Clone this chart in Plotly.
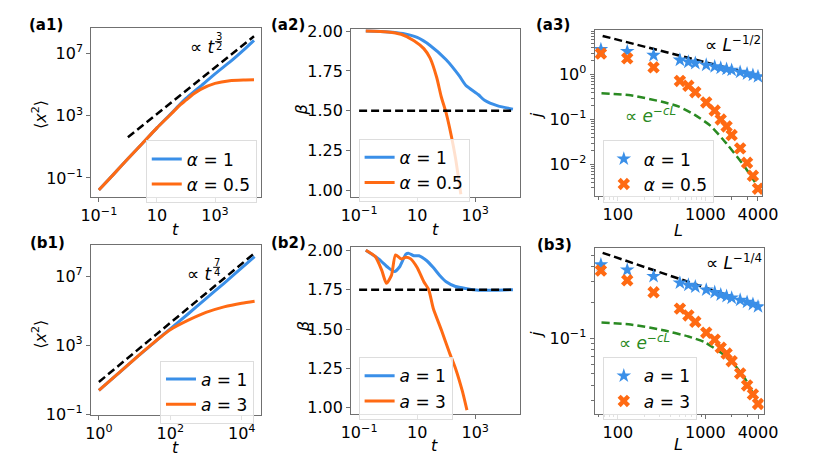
import plotly.graph_objects as go
from plotly.subplots import make_subplots

W, H = 830, 474

BLUE = "#3a8fe8"
ORANGE = "#ff6a13"
GREEN = "#2a8a22"
AXC = "#707070"

# ---- (a1) mean square displacement, alpha = 1 / 0.5
a1_t = [0.1, 0.32, 1, 3.2, 10, 32, 63, 100, 180, 320, 1000, 3200, 10000, 22000]
a1_blue = [0.017, 0.17, 1.7, 17, 166, 1500, 5600, 13000, 33000, 79000, 500000, 2800000, 18000000, 71000000]
a1_orange = [0.017, 0.17, 1.7, 17, 166, 1400, 5000, 10000, 25000, 50000, 120000, 180000, 200000, 205000]
a1_fit_t = [1, 22000]
a1_fit = [42, 130000000]

# ---- (a2) local exponent beta
a2_t_blue = [0.17, 1, 3.2, 10, 28, 100, 280, 470, 1300, 2100, 6000, 20000]
a2_blue = [2.0, 1.995, 1.985, 1.96, 1.91, 1.82, 1.72, 1.66, 1.60, 1.565, 1.53, 1.51]
a2_t_orange = [0.17, 1, 2.8, 7.8, 17, 28, 47, 68, 100, 150, 210, 320]
a2_orange = [2.0, 1.995, 1.98, 1.94, 1.89, 1.83, 1.71, 1.586, 1.485, 1.343, 1.202, 0.975]
a2_ref_t = [0.1, 20000]
a2_ref = [1.5, 1.5]

# ---- (a3) current vs system size
L_vals = [64, 128, 256, 512, 640, 768, 1024, 1280, 1500, 1750, 2000, 2500, 3000, 3500, 4000]
a3_blue = [3.6, 3.27, 2.68, 2.1, 1.9, 1.78, 1.62, 1.5, 1.4, 1.32, 1.25, 1.13, 1.04, 0.97, 0.9]
a3_orange = [2.92, 2.28, 1.44, 0.72, 0.56, 0.405, 0.239, 0.158, 0.1, 0.07, 0.045, 0.0228, 0.0109, 0.0056, 0.0029]
a3_pow_L = [67, 4100]
a3_pow = [7.2, 0.93]
a3_exp_L = [65, 140, 320, 500, 750, 1150, 1750, 2700, 4000]
a3_exp = [0.385, 0.344, 0.247, 0.193, 0.128, 0.072, 0.029, 0.01, 0.0032]

# ---- (b1)
b1_t = [1, 3.2, 10, 32, 56, 100, 320, 1000, 3200, 10000, 23000]
b1_blue = [2.5, 20, 160, 1200, 3300, 8900, 66000, 500000, 3800000, 30000000, 130000000]
b1_orange = [2.5, 20, 160, 1250, 3200, 7900, 28000, 79000, 166000, 270000, 350000]
b1_fit_t = [1, 23000]
b1_fit = [7.6, 210000000]

# ---- (b2)
b2_t_blue = [0.17, 0.47, 1.0, 1.66, 2.5, 4.1, 5.2, 7.8, 11.5, 21, 36, 60, 100, 210, 470, 1300, 4700, 20000]
b2_blue = [2.0, 1.945, 1.89, 1.865, 1.895, 1.975, 1.98, 1.965, 1.965, 1.935, 1.89, 1.84, 1.80, 1.77, 1.757, 1.746, 1.746, 1.75]
b2_t_orange = [0.17, 0.36, 0.6, 0.87, 1.3, 1.8, 2.8, 4.1, 6.0, 10, 17, 25, 36, 68, 130, 210, 360, 520]
b2_orange = [2.0, 1.96, 1.874, 1.79, 1.84, 1.97, 1.945, 1.955, 1.945, 1.89, 1.80, 1.75, 1.63, 1.495, 1.35, 1.25, 1.107, 0.985]
b2_ref_t = [0.1, 20000]
b2_ref = [1.75, 1.75]

# ---- (b3)
b3_blue = [0.415, 0.375, 0.331, 0.292, 0.28, 0.271, 0.255, 0.243, 0.232, 0.225, 0.218, 0.209, 0.201, 0.193, 0.184]
b3_orange = [0.371, 0.307, 0.243, 0.177, 0.155, 0.137, 0.111, 0.0968, 0.083, 0.074, 0.0638, 0.0503, 0.0398, 0.0335, 0.0278]
b3_pow_L = [67, 4100]
b3_pow = [0.523, 0.187]
b3_exp_L = [65, 140, 320, 640, 970, 1500, 2100, 2900, 4000]
b3_exp = [0.135, 0.130, 0.117, 0.103, 0.0927, 0.0755, 0.0607, 0.0444, 0.0278]

# tick labels
t_ticks_a = [0.1, 10, 1000]
t_text_a = ["10<sup>\u22121</sup>", "10", "10<sup>3</sup>"]
t_ticks_b1 = [1, 100, 10000]
t_text_b1 = ["10<sup>0</sup>", "10<sup>2</sup>", "10<sup>4</sup>"]
msd_ticks = [0.1, 1000, 10000000]
msd_text = ["10<sup>\u22121</sup>", "10<sup>3</sup>", "10<sup>7</sup>"]
beta_ticks = [1.0, 1.25, 1.5, 1.75, 2.0]
L_ticks = [100, 1000, 4000]
L_minor = [60, 70, 80, 90, 200, 300, 400, 500, 600, 700, 800, 900, 2000, 3000]
a3_j_ticks = [0.01, 0.1, 1]
a3_j_text = ["10<sup>\u22122</sup>", "10<sup>\u22121</sup>", "10<sup>0</sup>"]
a3_j_minor = [0.003, 0.004, 0.005, 0.006, 0.007, 0.008, 0.009, 0.02, 0.03, 0.04, 0.05,
              0.06, 0.07, 0.08, 0.09, 0.2, 0.3, 0.4, 0.5, 0.6, 0.7, 0.8, 0.9, 2, 3, 4, 5, 6, 7, 8, 9]
b3_j_ticks = [0.1]
b3_j_text = ["10<sup>\u22121</sup>"]
b3_j_minor = [0.03, 0.04, 0.05, 0.06, 0.07, 0.08, 0.09, 0.2, 0.3, 0.4, 0.5]

FONT = "DejaVu Sans"
DASH = "8px,4px"

fig = make_subplots(rows=2, cols=3)


def line(x, y, color, name=None, dash="solid", width=3, legend="legend", row=1, col=1):
    fig.add_trace(go.Scatter(x=x, y=y, mode="lines", name=name, showlegend=name is not None,
                             legend=legend, line=dict(color=color, width=width, dash=dash, shape="spline", smoothing=0.6)),
                  row=row, col=col)


def pts(x, y, color, symbol, name, legend, row, col, size=11):
    fig.add_trace(go.Scatter(x=x, y=y, mode="markers", name=name, legend=legend,
                             marker=dict(color=color, symbol=symbol, size=size, line=dict(width=0))),
                  row=row, col=col)


# panel a1
line(a1_fit_t, a1_fit, "black", dash=DASH, width=2.5, row=1, col=1)
line(a1_t, a1_blue, BLUE, "<i>\u03b1</i> = 1", legend="legend", row=1, col=1)
line(a1_t, a1_orange, ORANGE, "<i>\u03b1</i> = 0.5", legend="legend", row=1, col=1)
# panel a2
line(a2_t_blue, a2_blue, BLUE, "<i>\u03b1</i> = 1", legend="legend2", row=1, col=2)
line(a2_t_orange, a2_orange, ORANGE, "<i>\u03b1</i> = 0.5", legend="legend2", row=1, col=2)
line(a2_ref_t, a2_ref, "black", dash=DASH, width=2.5, row=1, col=2)
# panel a3
line(a3_pow_L, a3_pow, "black", dash=DASH, width=2.5, row=1, col=3)
line(a3_exp_L, a3_exp, GREEN, dash=DASH, width=2.5, row=1, col=3)
pts(L_vals, a3_blue, BLUE, "star", "<i>\u03b1</i> = 1", "legend3", 1, 3)
pts(L_vals, a3_orange, ORANGE, "x", "<i>\u03b1</i> = 0.5", "legend3", 1, 3)
# panel b1
line(b1_fit_t, b1_fit, "black", dash=DASH, width=2.5, row=2, col=1)
line(b1_t, b1_blue, BLUE, "<i>a</i> = 1", legend="legend4", row=2, col=1)
line(b1_t, b1_orange, ORANGE, "<i>a</i> = 3", legend="legend4", row=2, col=1)
# panel b2
line(b2_t_blue, b2_blue, BLUE, "<i>a</i> = 1", legend="legend5", row=2, col=2)
line(b2_t_orange, b2_orange, ORANGE, "<i>a</i> = 3", legend="legend5", row=2, col=2)
line(b2_ref_t, b2_ref, "black", dash=DASH, width=2.5, row=2, col=2)
# panel b3
line(b3_pow_L, b3_pow, "black", dash=DASH, width=2.5, row=2, col=3)
line(b3_exp_L, b3_exp, GREEN, dash=DASH, width=2.5, row=2, col=3)
pts(L_vals, b3_blue, BLUE, "star", "<i>a</i> = 1", "legend6", 2, 3)
pts(L_vals, b3_orange, ORANGE, "x", "<i>a</i> = 3", "legend6", 2, 3)


def xdom(x0, x1):
    return [x0 / W, x1 / W]


def ydom(y0, y1):
    return [1 - y1 / H, 1 - y0 / H]


common = dict(showline=True, linecolor=AXC, linewidth=1.2, mirror=True, ticks="outside",
              ticklen=4, tickcolor=AXC, showgrid=False, zeroline=False,
              tickfont=dict(family=FONT, size=16, color="black"))
minor = dict(ticks="outside", ticklen=2.5, tickcolor=AXC, tickmode="array")

fig.update_layout(
    xaxis=dict(type="log", domain=xdom(83, 258), range=[-1.26, 4.57], tickmode="array",
               tickvals=t_ticks_a, ticktext=t_text_a, **common),
    yaxis=dict(type="log", domain=ydom(22, 197), range=[-2.22, 8.63], tickmode="array",
               tickvals=msd_ticks, ticktext=msd_text, **common),
    xaxis2=dict(type="log", domain=xdom(351.7, 526), range=[-1.27, 4.54], tickmode="array",
                tickvals=t_ticks_a, ticktext=t_text_a, **common),
    yaxis2=dict(domain=ydom(22.7, 196.7), range=[0.96, 2.014], tickmode="array",
                tickvals=beta_ticks, tickformat=".2f", **common),
    xaxis3=dict(type="log", domain=xdom(603.3, 776.7), range=[1.735, 3.653], tickmode="array",
                tickvals=L_ticks, ticktext=[str(v) for v in L_ticks],
                minor=dict(tickvals=L_minor, **minor), **common),
    yaxis3=dict(type="log", domain=ydom(24, 196), range=[-2.70, 0.986], tickmode="array",
                tickvals=a3_j_ticks, ticktext=a3_j_text,
                minor=dict(tickvals=a3_j_minor, **minor), **common),
    xaxis4=dict(type="log", domain=xdom(82.7, 258), range=[-0.22, 4.53], tickmode="array",
                tickvals=t_ticks_b1, ticktext=t_text_b1, **common),
    yaxis4=dict(type="log", domain=ydom(246.7, 422.7), range=[-1.0, 8.8], tickmode="array",
                tickvals=msd_ticks, ticktext=msd_text, **common),
    xaxis5=dict(type="log", domain=xdom(351.7, 526), range=[-1.27, 4.54], tickmode="array",
                tickvals=t_ticks_a, ticktext=t_text_a, **common),
    yaxis5=dict(domain=ydom(249, 422.3), range=[0.96, 2.02], tickmode="array",
                tickvals=beta_ticks, tickformat=".2f", **common),
    xaxis6=dict(type="log", domain=xdom(603.3, 778), range=[1.735, 3.667], tickmode="array",
                tickvals=L_ticks, ticktext=[str(v) for v in L_ticks],
                minor=dict(tickvals=L_minor, **minor), **common),
    yaxis6=dict(type="log", domain=ydom(250, 421.7), range=[-1.637, -0.241], tickmode="array",
                tickvals=b3_j_ticks, ticktext=b3_j_text,
                minor=dict(tickvals=b3_j_minor, **minor), **common),
)

leg_style = dict(bgcolor="rgba(255,255,255,0.8)", bordercolor="#dddddd", borderwidth=1,
                 font=dict(family=FONT, size=17, color="black"), xanchor="left", yanchor="top",
                 tracegroupgap=0, itemwidth=30)
legend_boxes = {
    "legend": (139.3, 138.3),
    "legend2": (359.3, 136.7),
    "legend3": (611.7, 138.3),
    "legend4": (154, 366.7),
    "legend5": (359.3, 363.3),
    "legend6": (611.7, 363.3),
}
for key, (lx, ly) in legend_boxes.items():
    fig.update_layout({key: dict(x=lx / W, y=1 - ly / H, **leg_style)})


def note(x, y, text, size=16, color="black", angle=0, bold=False):
    if bold:
        text = "<b>" + text + "</b>"
    fig.add_annotation(x=x / W, y=1 - y / H, xref="paper", yref="paper", text=text, showarrow=False,
                       textangle=angle, xanchor="center", yanchor="middle",
                       font=dict(family=FONT, size=size, color=color))


def frac_power(x_base, y_base, x_frac, y_num, y_den, num, den):
    # "∝ t" followed by a small stacked fraction as exponent
    note(x_base, y_base, "\u221d <i>t</i>", size=17)
    note(x_frac, y_num, num, size=10)
    note(x_frac, y_den, den, size=10)
    yb = (y_num + y_den) / 2
    fig.add_shape(type="line", xref="paper", yref="paper", x0=(x_frac - 3.5) / W, x1=(x_frac + 3.5) / W,
                  y0=1 - yb / H, y1=1 - yb / H, line=dict(color="black", width=1))


# panel labels
for lbl, (px, py) in {"(a1)": (36, 19), "(a2)": (286, 19), "(a3)": (560, 19),
                      "(b1)": (38, 245), "(b2)": (287, 245), "(b3)": (562, 247)}.items():
    note(px, py, lbl, size=15, bold=True)

# axis titles
for px, py in [(170, 231), (439, 231), (170, 457), (438, 455)]:
    note(px, py, "<i>t</i>")
note(690, 232, "<i>L</i>")
note(690, 454, "<i>L</i>")
note(30, 112, "\u27e8<i>x</i><sup>2</sup>\u27e9", angle=-90)
note(30, 340, "\u27e8<i>x</i><sup>2</sup>\u27e9", angle=-90)
note(300, 107, "<i>\u03b2</i>", angle=-90)
note(302, 332, "<i>\u03b2</i>", angle=-90)
note(544, 113, "<i>j</i>", angle=-90)
note(544, 340, "<i>j</i>", angle=-90)

# in-plot labels
frac_power(198, 42, 214.5, 31, 41, "3", "2")
frac_power(195, 277, 212.5, 265, 275, "7", "4")
note(746, 38, "\u221d <i>L</i><sup>\u22121/2</sup>", size=17)
note(747, 265, "\u221d <i>L</i><sup>\u22121/4</sup>", size=17)
note(661, 112, "\u221d <i>e</i><sup>\u2212<i>cL</i></sup>", size=17, color=GREEN)
note(655, 347, "\u221d <i>e</i><sup>\u2212<i>cL</i></sup>", size=17, color=GREEN)

fig.update_layout(width=W, height=H, margin=dict(l=0, r=0, t=0, b=0),
                  plot_bgcolor="white", paper_bgcolor="white",
                  font=dict(family=FONT, size=16, color="black"))

fig.write_html("out.html", config={"displayModeBar": False},
               post_script="document.body.style.margin='0';")
